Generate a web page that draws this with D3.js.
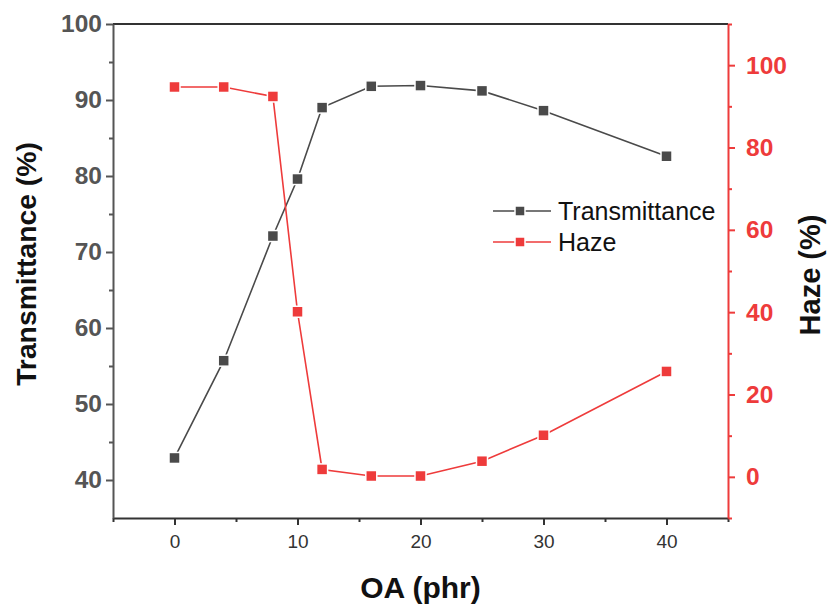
<!DOCTYPE html>
<html>
<head>
<meta charset="utf-8">
<script src="https://cdn.jsdelivr.net/npm/d3@7"></script>
<style>
  body { margin: 0; background: #fff; }
  svg { font-family: "Liberation Sans", Arial, sans-serif; }
</style>
</head>
<body>
<svg class="svgChart"></svg>
<script>
// data
const oa = [0, 4, 8, 10, 12, 16, 20, 25, 30, 40];
const transmittance = [42.9, 55.7, 72.1, 79.6, 89.0, 91.8, 91.9, 91.2, 88.6, 82.6];
const haze = [94.7, 94.7, 92.4, 40.1, 1.8, 0.2, 0.2, 3.8, 10.1, 25.6];
const xTicks = [0, 10, 20, 30, 40];
const yLeftTicks = [40, 50, 60, 70, 80, 90, 100];
const yRightTicks = [0, 20, 40, 60, 80, 100];

const W = 829, H = 606;
const margin = { top: 24, right: 101, bottom: 88, left: 113 };
const width = W - margin.left - margin.right;
const height = H - margin.top - margin.bottom;

const grey = '#555555';
const dark = '#4a4a4a';
const red = '#ee3b3b';

const svg = d3.select('.svgChart')
  .attr('width', W)
  .attr('height', H);

const g = svg.append('g')
  .attr('transform', `translate(${margin.left},${margin.top})`);

const xScale = d3.scaleLinear().domain([-5, 45]).range([0, width]);
const yLeft = d3.scaleLinear().domain([35, 100]).range([height, 0]);
const yRight = d3.scaleLinear().domain([-10, 110]).range([height, 0]);

// top frame line
g.append('line')
  .attr('x1', 0).attr('x2', width)
  .attr('y1', 0).attr('y2', 0)
  .attr('stroke', '#333').attr('stroke-width', 2);

// minor ticks first, majors on top
const minorAxis = (axis, color) => sel => {
  sel.call(axis);
  sel.select('.domain').remove();
  sel.selectAll('line').attr('stroke', color).attr('stroke-width', 2);
};

g.append('g')
  .attr('transform', `translate(0,${height})`)
  .call(minorAxis(d3.axisBottom(xScale).tickValues([-5, 5, 15, 25, 35, 45]).tickSize(4).tickFormat(''), '#333'));
g.append('g')
  .call(minorAxis(d3.axisLeft(yLeft).tickValues([45, 55, 65, 75, 85, 95]).tickSize(4).tickFormat(''), grey));
g.append('g')
  .attr('transform', `translate(${width},0)`)
  .call(minorAxis(d3.axisRight(yRight).tickValues([-10, 10, 30, 50, 70, 90, 110]).tickSize(4).tickFormat(''), red));

// x axis
const xAxis = g.append('g')
  .attr('transform', `translate(0,${height})`)
  .call(d3.axisBottom(xScale).tickValues(xTicks).tickSize(7).tickPadding(10).tickSizeOuter(0));
xAxis.select('.domain').attr('stroke', '#333').attr('stroke-width', 2);
xAxis.selectAll('.tick line').attr('stroke', '#333').attr('stroke-width', 2);
xAxis.selectAll('.tick text')
  .attr('fill', '#333')
  .attr('font-size', 19)
  .attr('font-family', '"Liberation Sans", Arial, sans-serif');

// left axis
const yAxisL = g.append('g')
  .call(d3.axisLeft(yLeft).tickValues(yLeftTicks).tickSize(7).tickPadding(4).tickSizeOuter(0));
yAxisL.select('.domain').attr('stroke', grey).attr('stroke-width', 2);
yAxisL.selectAll('.tick line').attr('stroke', grey).attr('stroke-width', 2);
yAxisL.selectAll('.tick text')
  .attr('fill', grey)
  .attr('font-size', 24.5)
  .attr('font-weight', 'bold')
  .attr('font-family', '"Liberation Sans", Arial, sans-serif');

// right axis
const yAxisR = g.append('g')
  .attr('transform', `translate(${width},0)`)
  .call(d3.axisRight(yRight).tickValues(yRightTicks).tickSize(7).tickPadding(11).tickSizeOuter(0));
yAxisR.select('.domain').attr('stroke', red).attr('stroke-width', 2);
yAxisR.selectAll('.tick line').attr('stroke', red).attr('stroke-width', 2);
yAxisR.selectAll('.tick text')
  .attr('fill', red)
  .attr('font-size', 24.5)
  .attr('font-weight', 'bold')
  .attr('font-family', '"Liberation Sans", Arial, sans-serif');

// series
const series = [
  { name: 'Transmittance', values: transmittance, y: yLeft, color: dark },
  { name: 'Haze', values: haze, y: yRight, color: red }
];

series.forEach(s => {
  const pts = oa.map((x, i) => [x, s.values[i]]);
  const line = d3.line()
    .x(d => xScale(d[0]))
    .y(d => s.y(d[1]));

  g.append('path')
    .datum(pts)
    .attr('fill', 'none')
    .attr('stroke', s.color)
    .attr('stroke-width', 1.6)
    .attr('d', line);

  g.selectAll(null)
    .data(pts)
    .enter()
    .append('rect')
      .attr('x', d => xScale(d[0]) - 5.5)
      .attr('y', d => s.y(d[1]) - 5.5)
      .attr('width', 11)
      .attr('height', 11)
      .attr('fill', s.color)
      .attr('stroke', '#fff')
      .attr('stroke-width', 1.5);
});

// legend
const legend = svg.append('g')
  .selectAll('g')
  .data(series)
  .enter()
  .append('g')
    .attr('transform', (d, i) => `translate(493, ${211 + i * 31})`);

legend.append('line')
  .attr('x1', 0).attr('x2', 58)
  .attr('stroke', d => d.color)
  .attr('stroke-width', 1.6);

legend.append('rect')
  .attr('x', 22).attr('y', -5)
  .attr('width', 10).attr('height', 10)
  .attr('fill', d => d.color)
  .attr('stroke', '#fff')
  .attr('stroke-width', 1.5);

legend.append('text')
  .attr('x', 65)
  .attr('dy', '0.36em')
  .attr('font-size', 25)
  .attr('fill', '#111')
  .text(d => d.name);

// axis titles
svg.append('text')
  .attr('x', margin.left + width / 2)
  .attr('y', 598)
  .attr('text-anchor', 'middle')
  .attr('font-size', 30)
  .attr('font-weight', 'bold')
  .attr('fill', '#111')
  .text('OA (phr)');

svg.append('text')
  .attr('transform', `translate(36, 264) rotate(-90)`)
  .attr('text-anchor', 'middle')
  .attr('font-size', 28.3)
  .attr('font-weight', 'bold')
  .attr('fill', '#111')
  .text('Transmittance (%)');

svg.append('text')
  .attr('transform', `translate(820, 275) rotate(-90)`)
  .attr('text-anchor', 'middle')
  .attr('font-size', 29)
  .attr('font-weight', 'bold')
  .attr('fill', '#111')
  .text('Haze (%)');
</script>
</body>
</html>
